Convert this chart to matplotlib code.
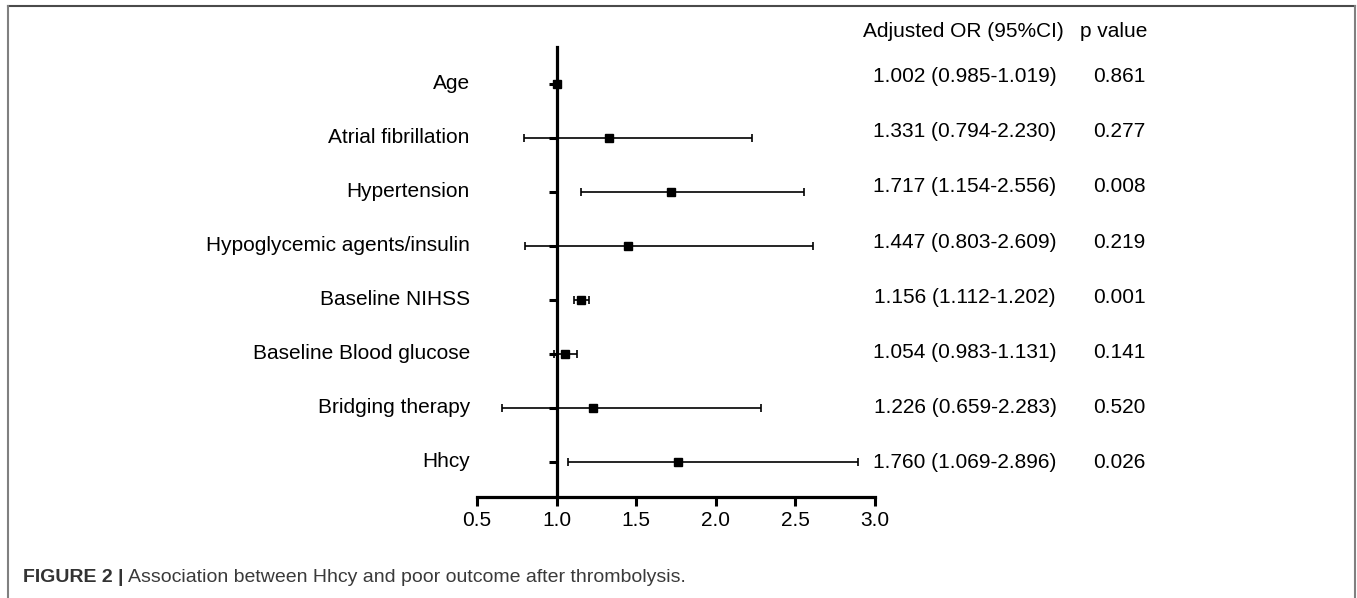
import matplotlib
matplotlib.use('Agg')
import matplotlib.pyplot as plt
from matplotlib.lines import Line2D
import matplotlib.transforms as mtransforms
import numpy as np

variables = ['Age', 'Atrial fibrillation', 'Hypertension', 'Hypoglycemic agents/insulin',
             'Baseline NIHSS', 'Baseline Blood glucose', 'Bridging therapy', 'Hhcy']
odds = [1.002, 1.331, 1.717, 1.447, 1.156, 1.054, 1.226, 1.760]
ci_low = [0.985, 0.794, 1.154, 0.803, 1.112, 0.983, 0.659, 1.069]
ci_high = [1.019, 2.230, 2.556, 2.609, 1.202, 1.131, 2.283, 2.896]
p_values = ['0.861', '0.277', '0.008', '0.219', '0.001', '0.141', '0.520', '0.026']
xticks = [0.5, 1.0, 1.5, 2.0, 2.5, 3.0]

plt.rcParams['font.family'] = ['Liberation Sans', 'DejaVu Sans']

W, H = 1357, 598
fig = plt.figure(figsize=(W / 100, H / 100), dpi=100)
# axes box in pixels: x 477..875, y 47..497 (from top)
ax = fig.add_axes([477 / W, (H - 497) / H, 398 / W, 450 / H])

odds = np.array(odds)
lo = np.array(ci_low)
hi = np.array(ci_high)
rows = np.arange(len(variables))

ax.errorbar(odds, rows, xerr=[odds - lo, hi - odds], fmt='s', color='k',
            ms=6.3, elinewidth=1.2, capsize=3, capthick=1.2, zorder=3, clip_on=False)

ax.set_xlim(0.5, 3.0)
ax.set_ylim(7.65, -0.68)
ax.spines['top'].set_visible(False)
ax.spines['right'].set_visible(False)
ax.spines['left'].set_position(('data', 1.0))
ax.spines['left'].set_linewidth(2.3)
ax.spines['bottom'].set_linewidth(2.3)

ax.set_xticks(xticks)
ax.set_xticklabels(['%.1f' % t for t in xticks])
ax.tick_params(axis='x', direction='out', length=6.5, width=2.2, labelsize=15, pad=3.5)
ax.set_yticks(rows)
ax.set_yticklabels([])
ax.tick_params(axis='y', direction='out', length=5.8, width=2.2)

# row labels on the left
trans = mtransforms.blended_transform_factory(ax.transAxes, ax.transData)
for i, name in enumerate(variables):
    ax.text(-0.018, i, name, transform=trans, ha='right', va='center',
            fontsize=15, clip_on=False)

# table on the right
ax.text((963 - 477) / 398, -0.963, 'Adjusted OR (95%CI)', transform=trans,
        ha='center', va='center', fontsize=15, clip_on=False)
ax.text((1114 - 477) / 398, -0.963, 'p value', transform=trans,
        ha='center', va='center', fontsize=15, clip_on=False)
for i in rows:
    ty = i * 1.02 - 0.13
    ax.text((965 - 477) / 398, ty, '%.3f (%.3f-%.3f)' % (odds[i], lo[i], hi[i]),
            transform=trans, ha='center', va='center', fontsize=15, clip_on=False)
    ax.text((1119 - 477) / 398, ty, p_values[i], transform=trans,
            ha='center', va='center', fontsize=15, clip_on=False)

# caption
fig.text(23 / W, 1 - 578 / H, 'FIGURE 2 |', fontsize=14, fontweight='bold',
         color='#333333', ha='left', va='center')
fig.text(128 / W, 1 - 578 / H, 'Association between Hhcy and poor outcome after thrombolysis.',
         fontsize=14, color='#3a3a3a', ha='left', va='center')

# frame around the figure
fig.add_artist(Line2D([8 / W, 1355 / W], [1 - 6 / H, 1 - 6 / H], transform=fig.transFigure,
                      color='#4a4a4a', lw=1.5))
fig.add_artist(Line2D([8 / W, 8 / W], [1 - 6 / H, 0], transform=fig.transFigure,
                      color='#808080', lw=1.5))
fig.add_artist(Line2D([1355 / W, 1355 / W], [1 - 6 / H, 0], transform=fig.transFigure,
                      color='#808080', lw=1.5))

fig.savefig('out.png', dpi=100)
